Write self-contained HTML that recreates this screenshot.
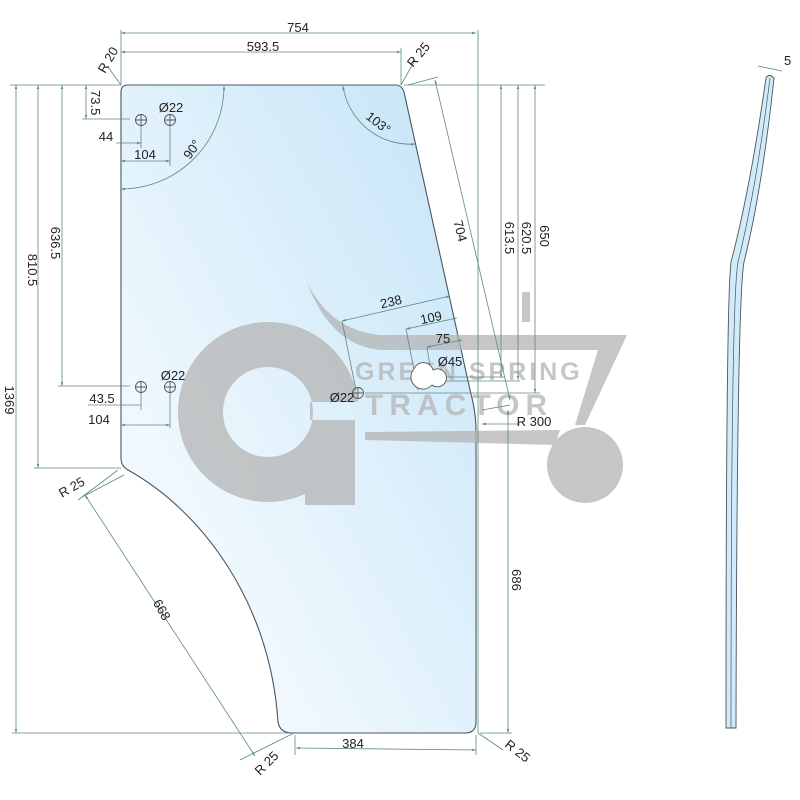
<!DOCTYPE html>
<html><head><meta charset="utf-8"><style>
html,body{margin:0;padding:0;background:#fff;}
svg{display:block;font-family:"Liberation Sans",sans-serif;}
</style></head><body>
<svg width="800" height="800" viewBox="0 0 800 800" xmlns="http://www.w3.org/2000/svg">
<defs>
<linearGradient id="g" x1="1" y1="0" x2="0" y2="1">
<stop offset="0" stop-color="#c4e4f7"/>
<stop offset="0.55" stop-color="#e4f3fc"/>
<stop offset="1" stop-color="#ffffff"/>
</linearGradient>
<marker id="a" viewBox="0 0 10 10" refX="10" refY="5" markerWidth="5" markerHeight="5" orient="auto-start-reverse"><path d="M0,2 L10,5 L0,8z" fill="#5d8a80"/></marker>
</defs>
<path d="M128,85 L395,85 Q402,85 404,92 L470,390 Q476,412 476,430 L476,722 Q476,733 465,733 L292,733 Q280,733 278,722 C270,600 200,510 128,470 Q121,466 121,458 L121,92 Q121,85 128,85Z" fill="url(#g)" stroke="#4a5560" stroke-width="1.1"/>
<g fill="#b4b4b4" opacity="0.75">
<path fill-rule="evenodd" d="M268,322 A90,90 0 1,0 305,494 L305,505 L355,505 L355,420 L310,420 L310,402 L358,402 A90,90 0 0,0 268,322Z M268,367 A45,45 0 1,0 268,457 A45,45 0 1,0 268,367Z"/>
<path d="M307,282 Q330,330 380,335 L627,335 L585,425 L575,425 L598,350 L380,350 Q330,345 307,282Z"/>
<path d="M365,432 L560,430 L555,445 L365,440Z"/>
<circle cx="585" cy="465" r="38"/>
<rect x="522" y="292" width="8" height="30"/>
<text x="355" y="380" font-size="25" font-weight="bold" letter-spacing="3">GREEN SPRING</text>
<text x="365" y="415" font-size="30" font-weight="bold" letter-spacing="6">TRACTOR</text>
</g>
<g fill="none" stroke="#5d8a80" stroke-width="0.8">
<line x1="121" y1="33" x2="476" y2="33" marker-start="url(#a)" marker-end="url(#a)"/>
<line x1="121" y1="52" x2="401" y2="52" marker-start="url(#a)" marker-end="url(#a)"/>
<line x1="121" y1="30" x2="121" y2="85"/><line x1="478" y1="30" x2="478" y2="733"/><line x1="401" y1="48" x2="401" y2="85"/>
<line x1="10" y1="85" x2="121" y2="85"/><line x1="404" y1="85" x2="545" y2="85"/>
<line x1="108" y1="67" x2="121" y2="85"/><line x1="415" y1="60" x2="401" y2="85"/>
<line x1="16" y1="85" x2="16" y2="733" marker-start="url(#a)" marker-end="url(#a)"/>
<line x1="38" y1="85" x2="38" y2="468" marker-start="url(#a)" marker-end="url(#a)"/>
<line x1="62" y1="85" x2="62" y2="386" marker-start="url(#a)" marker-end="url(#a)"/>
<line x1="86" y1="85" x2="86" y2="119" marker-start="url(#a)" marker-end="url(#a)"/>
<line x1="82" y1="119" x2="130" y2="119"/><line x1="58" y1="386" x2="130" y2="386"/>
<line x1="34" y1="468" x2="121" y2="468"/><line x1="12" y1="733" x2="290" y2="733"/>
<line x1="116" y1="143" x2="141" y2="143" marker-end="url(#a)"/>
<line x1="121" y1="161" x2="170" y2="161" marker-start="url(#a)" marker-end="url(#a)"/>
<line x1="141" y1="125" x2="141" y2="148"/><line x1="170" y1="125" x2="170" y2="166"/>
<line x1="88" y1="405" x2="141" y2="405"/><line x1="141" y1="392" x2="141" y2="410"/>
<line x1="121" y1="425" x2="170" y2="425" marker-start="url(#a)" marker-end="url(#a)"/>
<line x1="170" y1="392" x2="170" y2="428"/>
<path d="M224,86 A103,103 0 0,1 121,189" marker-start="url(#a)" marker-end="url(#a)"/>
<path d="M343,86 A68,68 0 0,0 415,144" marker-start="url(#a)" marker-end="url(#a)"/>
<line x1="435" y1="80" x2="510" y2="400" marker-start="url(#a)" marker-end="url(#a)"/>
<line x1="408" y1="85" x2="438" y2="77"/>
<line x1="501" y1="85" x2="501" y2="378" marker-start="url(#a)" marker-end="url(#a)"/>
<line x1="518" y1="85" x2="518" y2="380" marker-start="url(#a)" marker-end="url(#a)"/>
<line x1="535" y1="85" x2="535" y2="393" marker-start="url(#a)" marker-end="url(#a)"/>
<line x1="508" y1="410" x2="508" y2="733" marker-start="url(#a)" marker-end="url(#a)"/>
<line x1="440" y1="377" x2="505" y2="377"/><line x1="440" y1="381" x2="520" y2="381"/>
<line x1="365" y1="393" x2="540" y2="393"/>
<line x1="480" y1="733" x2="512" y2="733"/>
<line x1="482" y1="424" x2="520" y2="424" marker-start="url(#a)"/>
<line x1="482" y1="410" x2="510" y2="405"/>
<line x1="342" y1="321" x2="450" y2="296" marker-start="url(#a)" marker-end="url(#a)"/>
<line x1="342" y1="321" x2="356" y2="390"/>
<line x1="406" y1="329" x2="457" y2="318" marker-start="url(#a)" marker-end="url(#a)"/>
<line x1="406" y1="329" x2="418" y2="390"/>
<line x1="427" y1="347" x2="462" y2="340" marker-start="url(#a)" marker-end="url(#a)"/>
<line x1="427" y1="347" x2="433" y2="385"/>
<line x1="78" y1="500" x2="118" y2="470"/><line x1="85" y1="495" x2="255" y2="756" marker-start="url(#a)" marker-end="url(#a)"/>
<line x1="82" y1="497" x2="124" y2="475"/>
<line x1="240" y1="760" x2="294" y2="733"/>
<line x1="296" y1="748" x2="476" y2="750" marker-start="url(#a)" marker-end="url(#a)"/>
<line x1="295" y1="735" x2="295" y2="755"/><line x1="476" y1="735" x2="476" y2="755"/>
<line x1="478" y1="733" x2="503" y2="750"/>
<line x1="758" y1="66" x2="782" y2="71"/>
</g>
<g fill="none" stroke="#555" stroke-width="0.9">
<circle cx="141" cy="120" r="5.5"/><circle cx="170" cy="120" r="5.5"/>
<circle cx="141" cy="387" r="5.5"/><circle cx="170" cy="387" r="5.5"/>
<circle cx="358" cy="393" r="5.5"/>
<path d="M414,369 A10,10 0 0,1 433,370 A9,9 0 1,1 432,385 A10,10 0 0,1 414,369Z" fill="#fff"/>
<path d="M141,115v10M136,120h10M170,115v10M165,120h10M141,382v10M136,387h10M170,382v10M165,387h10M358,388v10M353,393h10"/>
</g>
<path d="M766,78 Q769,73 774,78 Q762,190 744,262 Q737,300 736,728 L726,728 Q726,300 731,262 Q750,190 766,78Z" fill="#d2ebf8" stroke="#4a5560" stroke-width="0.9"/>
<path d="M770,78 Q756,190 738,262 Q731,300 731,728" fill="none" stroke="#4a5560" stroke-width="0.7"/>
<g fill="#222" font-size="13">
<text x="298" y="32" text-anchor="middle">754</text>
<text x="263" y="51" text-anchor="middle">593.5</text>
<text transform="translate(105,74) rotate(-60)">R 20</text>
<text transform="translate(413,68) rotate(-50)">R 25</text>
<text x="171" y="112" text-anchor="middle">Ø22</text>
<text x="106" y="141" text-anchor="middle">44</text>
<text x="145" y="159" text-anchor="middle">104</text>
<text transform="translate(190,160) rotate(-55)">90°</text>
<text transform="translate(365,118) rotate(38)">103°</text>
<text transform="translate(91,90) rotate(90)">73.5</text>
<text transform="translate(51,243) rotate(90)" text-anchor="middle">636.5</text>
<text transform="translate(28,270) rotate(90)" text-anchor="middle">810.5</text>
<text transform="translate(5,400) rotate(90)" text-anchor="middle">1369</text>
<text x="173" y="380" text-anchor="middle">Ø22</text>
<text x="102" y="403" text-anchor="middle">43.5</text>
<text x="99" y="424" text-anchor="middle">104</text>
<text transform="translate(456,232) rotate(76)" text-anchor="middle">704</text>
<text transform="translate(505,238) rotate(90)" text-anchor="middle">613.5</text>
<text transform="translate(522,238) rotate(90)" text-anchor="middle">620.5</text>
<text transform="translate(540,236) rotate(90)" text-anchor="middle">650</text>
<text transform="translate(392,306) rotate(-13)" text-anchor="middle">238</text>
<text transform="translate(432,322) rotate(-12)" text-anchor="middle">109</text>
<text x="443" y="343" text-anchor="middle">75</text>
<text x="450" y="366" text-anchor="middle">Ø45</text>
<text x="342" y="402" text-anchor="middle">Ø22</text>
<text x="534" y="426" text-anchor="middle">R 300</text>
<text transform="translate(512,580) rotate(90)" text-anchor="middle">686</text>
<text transform="translate(62,498) rotate(-30)">R 25</text>
<text transform="translate(158,612) rotate(60)" text-anchor="middle">668</text>
<text transform="translate(260,776) rotate(-45)">R 25</text>
<text x="353" y="748" text-anchor="middle">384</text>
<text transform="translate(504,746) rotate(38)">R 25</text>
<text x="784" y="65">5</text>
</g>
</svg>
</body></html>
